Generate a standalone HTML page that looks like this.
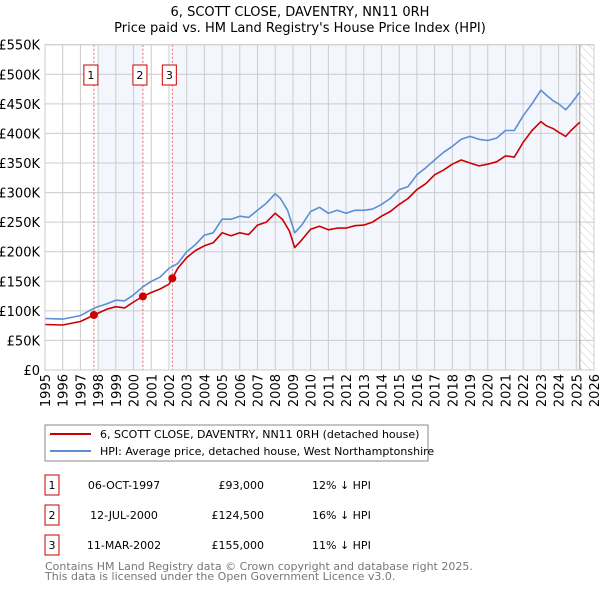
<!DOCTYPE html>
<html><head><meta charset="utf-8"><style>
body{margin:0;background:#fff;font-family:"DejaVu Sans","Liberation Sans",sans-serif;}
svg text{font-family:"DejaVu Sans","Liberation Sans",sans-serif;}
</style></head><body>
<svg id="c" width="600" height="590" xmlns="http://www.w3.org/2000/svg">
<defs><pattern id="hatch" width="6" height="6" patternUnits="userSpaceOnUse" patternTransform="rotate(-45)"><line x1="0" y1="0" x2="0" y2="6" stroke="#ccc" stroke-width="1"/></pattern></defs>
<text x="300" y="16" text-anchor="middle" font-size="13">6, SCOTT CLOSE, DAVENTRY, NN11 0RH</text>
<text x="300" y="32" text-anchor="middle" font-size="13">Price paid vs. HM Land Registry's House Price Index (HPI)</text>
<g id="plot"></g>
<g>
<rect x="45" y="425" width="383" height="36" fill="#fff" stroke="#888"/>
<line x1="50" y1="434" x2="91" y2="434" stroke="#cc0000" stroke-width="2"/>
<text x="100" y="438" font-size="11">6, SCOTT CLOSE, DAVENTRY, NN11 0RH (detached house)</text>
<line x1="50" y1="451" x2="91" y2="451" stroke="#5b8fd4" stroke-width="2"/>
<text x="100" y="455" font-size="11">HPI: Average price, detached house, West Northamptonshire</text>
</g>
<g id="tbl" font-size="11"></g>
<text x="45" y="570" font-size="11" fill="#777">Contains HM Land Registry data © Crown copyright and database right 2025.</text>
<text x="45" y="580" font-size="11" fill="#777">This data is licensed under the Open Government Licence v3.0.</text>
</svg>
<script>
const hpiYears=[1995,1996,1997,1997.8,1998.5,1999,1999.5,2000,2000.5,2001,2001.5,2002,2002.5,2003,2003.5,2004,2004.5,2005,2005.5,2006,2006.5,2007,2007.5,2008,2008.3,2008.7,2009.1,2009.5,2010,2010.5,2011,2011.5,2012,2012.5,2013,2013.5,2014,2014.5,2015,2015.5,2016,2016.5,2017,2017.5,2018,2018.5,2019,2019.5,2020,2020.5,2021,2021.5,2022,2022.5,2023,2023.3,2023.7,2024,2024.4,2024.7,2025.2];
const hpiValues=[87,86,92,105,112,118,117,127,140,150,157,172,180,200,212,228,232,255,255,260,258,270,282,298,290,270,232,245,268,275,265,270,265,270,270,272,280,290,305,310,330,342,355,368,378,390,395,390,388,392,405,405,430,450,473,465,455,450,440,450,470];
const priceYears=[1995,1996,1997,1997.77,1998.5,1999,1999.5,2000,2000.53,2001,2001.5,2002,2002.19,2002.5,2003,2003.5,2004,2004.5,2005,2005.5,2006,2006.5,2007,2007.5,2008,2008.4,2008.8,2009.1,2009.5,2010,2010.5,2011,2011.5,2012,2012.5,2013,2013.5,2014,2014.5,2015,2015.5,2016,2016.5,2017,2017.5,2018,2018.5,2019,2019.5,2020,2020.5,2021,2021.5,2022,2022.5,2023,2023.3,2023.7,2024,2024.4,2024.7,2025.2];
const priceValues=[77,76,82,93,103,107,105,115,124.5,131,137,145,155,172,190,202,210,215,232,227,232,229,245,250,265,255,235,207,220,238,243,237,240,240,244,245,250,260,268,280,290,305,315,330,338,348,355,350,345,348,352,362,360,385,405,420,413,408,402,395,405,419];
const saleLabels=["1","2","3"];
const saleYears=[1997.76,2000.53,2002.19];
const saleValues=[93,124.5,155];
const saleDates=["06-OCT-1997","12-JUL-2000","11-MAR-2002"];
const salePrices=["£93,000","£124,500","£155,000"];
const saleDiffs=["12% ↓ HPI","16% ↓ HPI","11% ↓ HPI"];
const yTicks=[0,50,100,150,200,250,300,350,400,450,500,550];
const yTickLabels=["£0","£50K","£100K","£150K","£200K","£250K","£300K","£350K","£400K","£450K","£500K","£550K"];
const xTicks=[];for(let y=1995;y<=2026;y++)xTicks.push(y);

const NS="http://www.w3.org/2000/svg";
const L=45,R=594,T=44.7,B=370;
const x=v=>L+(v-1995)/(2026-1995)*(R-L);
const y=v=>B-v/550*(B-T);
const g=document.getElementById('plot');
function mk(t,a,p){const e=document.createElementNS(NS,t);for(const k in a)e.setAttribute(k,a[k]);(p||g).appendChild(e);return e;}
let e;
e=mk('rect',{x:L,y:T,width:R-L,height:B-T,fill:'#fff'});


e=mk('rect',{x:x(1998),y:T,width:x(2000.53)-x(1998),height:B-T,fill:'#f3f6fd'});


e=mk('rect',{x:x(2002.19),y:T,width:x(2025.2)-x(2002.19),height:B-T,fill:'#f3f6fd'});


e=mk('rect',{x:x(2025.2),y:T,width:R-x(2025.2),height:B-T,fill:'url(#hatch)'});


yTicks.forEach((v,i)=>{
 e=mk('line',{x1:L,x2:R,y1:y(v),y2:y(v),stroke:'#ccc','stroke-width':1});
 
 
 e=mk('text',{x:L-5,y:y(v)+5,'text-anchor':'end','font-size':13});
 e.textContent=yTickLabels[i];
 
 
});
xTicks.forEach(v=>{
 e=mk('line',{x1:x(v),x2:x(v),y1:T,y2:B,stroke:'#ccc','stroke-width':1});
 
 
 e=mk('text',{x:0,y:0,'font-size':13,'text-anchor':'end',transform:`translate(${x(v)+5},${B+4}) rotate(-90)`});
 e.textContent=v;
 
 
});
e=mk('line',{x1:x(2025.2),x2:x(2025.2),y1:T,y2:B,stroke:'#999','stroke-width':1});


saleYears.forEach((v,i)=>{
 e=mk('line',{x1:x(v),x2:x(v),y1:T,y2:B,stroke:'#f06060','stroke-width':1,'stroke-dasharray':'2,2'});
 
 
 e=mk('rect',{x:x(v)-10,y:65,width:14,height:20,fill:'#fff',stroke:'#cc0000'});
 
 
 e=mk('text',{x:x(v)-3,y:79,'text-anchor':'middle','font-size':11});
 e.textContent=saleLabels[i];
 
 
});
function path(xs,vs,col,name){
 e=mk('path',{d:xs.map((v,i)=>(i?'L':'M')+x(v).toFixed(1)+','+y(vs[i]).toFixed(1)).join(''),fill:'none',stroke:col,'stroke-width':1.6,'stroke-linejoin':'round'});
 
 
}
path(hpiYears,hpiValues,'#5b8fd4','hpi-line');
path(priceYears,priceValues,'#cc0000','price-line');
saleYears.forEach((v,i)=>{
 e=mk('circle',{cx:x(v),cy:y(saleValues[i]),r:4,fill:'#cc0000'});
 
 
});
e=mk('rect',{x:L,y:T,width:R-L,height:B-T,fill:'none',stroke:'#ccc'});


const tb=document.getElementById('tbl');
saleLabels.forEach((s,i)=>{
 const cy=484+i*30;
 e=mk('rect',{x:45,y:cy-9,width:14,height:20,fill:'#fff',stroke:'#cc0000'},tb);
 
 
 e=mk('text',{x:52,y:cy+5,'text-anchor':'middle'},tb);e.textContent=s;
 
 
 e=mk('text',{x:124,y:cy+5,'text-anchor':'middle'},tb);e.textContent=saleDates[i];
 
 
 e=mk('text',{x:264,y:cy+5,'text-anchor':'end'},tb);e.textContent=salePrices[i];
 
 
 e=mk('text',{x:312,y:cy+5},tb);e.textContent=saleDiffs[i];
 
 
});
</script>
</body></html>
